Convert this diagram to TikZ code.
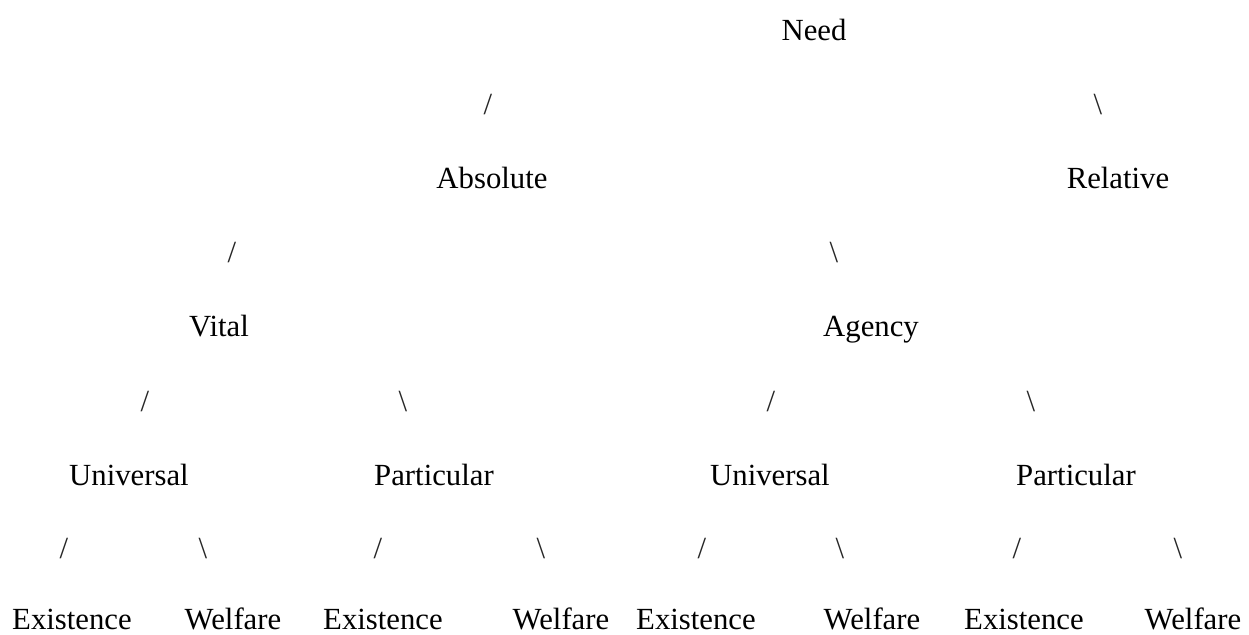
\documentclass[tikz,border=0pt]{standalone}
\usepackage{fontspec}
\setmainfont{Liberation Serif}
\begin{document}
\begin{tikzpicture}[x=0.02cm, y=-0.02cm,
    word/.style={anchor=base, inner sep=0pt, font=\fontsize{17.5}{21}\selectfont},
    slash/.style={word, black!85}]
    \useasboundingbox (0,0) rectangle (1249,635);
    % top of the tree
    \node[word] (need) at (814,41) {Need};
    \node[slash] (sAbs) at (488,115) {/};
    \node[slash] (sRel) at (1098,115) {\textbackslash};
    \node[word] (absolute) at (492,189) {Absolute};
    \node[word] (relative) at (1118,189) {Relative};
    \node[slash] (sVit) at (232,263) {/};
    \node[slash] (sAge) at (834,263) {\textbackslash};
    \node[word] (vital) at (219,337) {Vital};
    \node[word] (agency) at (871,337) {Agency};
    % universal / particular
    \foreach \x/\s [count=\i] in {145/{/}, 403/\textbackslash, 771/{/}, 1031/\textbackslash} {
        \node[slash] (sKind\i) at (\x,411) {\s};
    }
    \node[word] (univA) at (129,485) {Universal};
    \node[word] (partA) at (434,485) {Particular};
    \node[word] (univB) at (770,485) {Universal};
    \node[word] (partB) at (1076,485) {Particular};
    % leaves
    \foreach \x/\s [count=\i] in {64/{/}, 203/\textbackslash, 378/{/}, 541/\textbackslash,
                                  702/{/}, 840/\textbackslash, 1017/{/}, 1178/\textbackslash} {
        \node[slash] (sLeaf\i) at (\x,558) {\s};
    }
    \foreach \x/\label [count=\i] in {72/Existence, 233/Welfare, 383/Existence, 561/Welfare,
                                      696/Existence, 872/Welfare, 1024/Existence, 1193/Welfare} {
        \node[word] (leaf\i) at (\x,629) {\label};
    }
\end{tikzpicture}
\end{document}
